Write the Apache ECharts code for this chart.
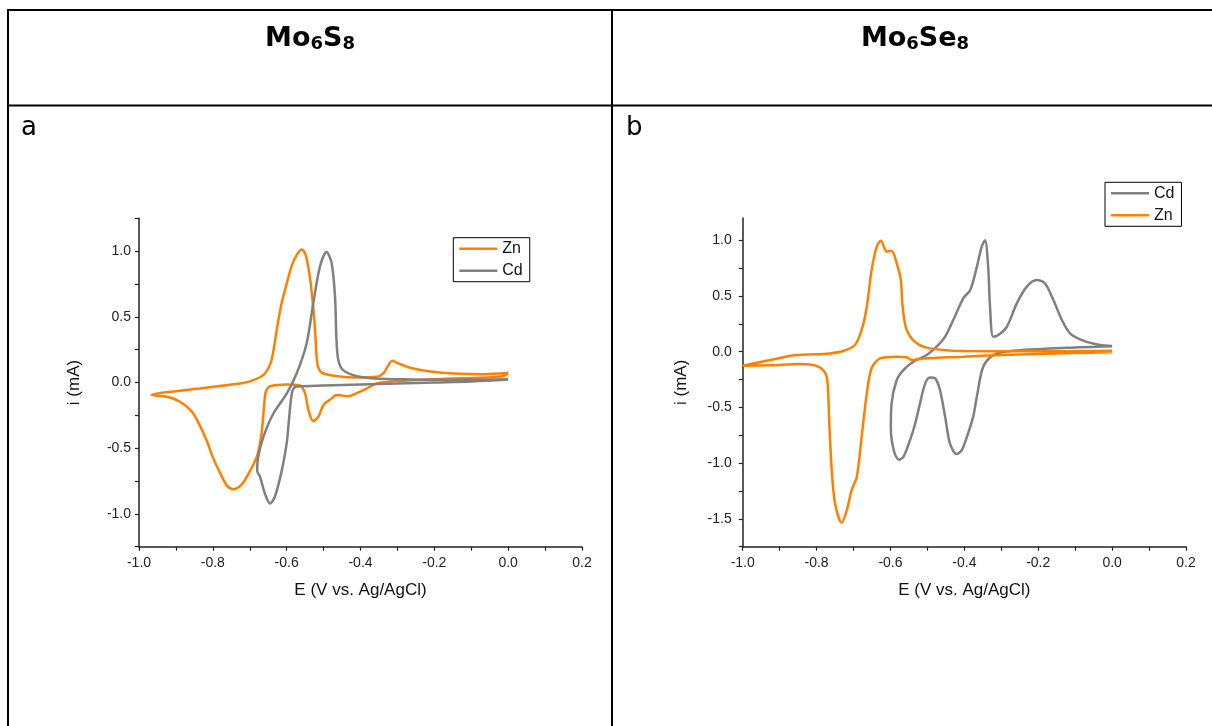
<!DOCTYPE html>
<html>
<head>
<meta charset="utf-8">
<script src="https://cdn.jsdelivr.net/npm/echarts@6/dist/echarts.min.js"></script>
<style>
html,body{margin:0;padding:0;background:#fff;}
#c{width:1212px;height:726px;}
</style>
</head>
<body>
<div id="c"></div>
<script>
// ---------- DATA ----------
// Panel a (Mo6S8): potential E (V vs Ag/AgCl) and current i (mA)
const znA_E = [0.0, -0.02, -0.1, -0.2, -0.3, -0.356, -0.383, -0.401, -0.433, -0.464, -0.482, -0.5, -0.514, -0.528, -0.541, -0.55, -0.564, -0.6, -0.645, -0.655, -0.659, -0.668, -0.681, -0.708, -0.725, -0.744, -0.762, -0.78, -0.8, -0.817, -0.853, -0.889, -0.925, -0.966,
  -0.85, -0.717, -0.69, -0.663, -0.65, -0.642, -0.634, -0.627, -0.614, -0.6, -0.586, -0.573, -0.559, -0.547, -0.537, -0.529, -0.523, -0.519, -0.515, -0.505, -0.473, -0.419, -0.356, -0.338, -0.327, -0.314, -0.297, -0.266, -0.211, -0.148, -0.067, 0.0];
const znA_I = [0.07, 0.045, 0.035, 0.025, 0.01, -0.008, -0.046, -0.07, -0.104, -0.096, -0.13, -0.17, -0.26, -0.294, -0.21, -0.084, -0.023, -0.015, -0.028, -0.06, -0.109, -0.388, -0.566, -0.718, -0.785, -0.812, -0.785, -0.69, -0.57, -0.44, -0.236, -0.147, -0.109, -0.096,
  -0.05, -0.003, 0.018, 0.056, 0.107, 0.16, 0.27, 0.398, 0.6, 0.753, 0.89, 0.969, 1.013, 0.957, 0.80, 0.6, 0.398, 0.2, 0.12, 0.075, 0.051, 0.038, 0.043, 0.069, 0.119, 0.165, 0.145, 0.112, 0.084, 0.069, 0.063, 0.074];

const cdA_E = [0.0, -0.1, -0.2, -0.3, -0.4, -0.5, -0.56, -0.577, -0.586, -0.593, -0.6, -0.613, -0.632, -0.645, -0.659, -0.672, -0.68,
  -0.677, -0.663, -0.636, -0.6, -0.573, -0.546, -0.528, -0.51, -0.492, -0.478, -0.469, -0.465, -0.46, -0.447, -0.41, -0.356, -0.3, -0.2, -0.1, 0.0];
const cdA_I = [0.022, 0.008, 0.0, -0.008, -0.015, -0.022, -0.028, -0.033, -0.084, -0.262, -0.464, -0.667, -0.87, -0.921, -0.845, -0.718, -0.672,
  -0.566, -0.414, -0.236, -0.084, 0.068, 0.297, 0.601, 0.88, 0.994, 0.905, 0.652, 0.322, 0.17, 0.094, 0.048, 0.03, 0.025, 0.02, 0.02, 0.025];

// Panel b (Mo6Se8)
const cdB_E = [0.0, -0.123, -0.268, -0.322, -0.349, -0.366, -0.376, -0.393, -0.407, -0.421, -0.439, -0.452, -0.466, -0.479, -0.493, -0.506, -0.52, -0.533, -0.547, -0.565, -0.577, -0.59, -0.599,
  -0.597, -0.583, -0.565, -0.538, -0.502, -0.475, -0.452, -0.43, -0.403, -0.384, -0.366, -0.353, -0.344, -0.335, -0.331, -0.322, -0.308, -0.285, -0.258, -0.231, -0.204, -0.182, -0.159, -0.136, -0.114, -0.078, -0.033, 0.0];
const cdB_I = [0.05, 0.036, 0.009, -0.03, -0.135, -0.4, -0.583, -0.763, -0.883, -0.919, -0.823, -0.584, -0.344, -0.24, -0.231, -0.284, -0.464, -0.644, -0.793, -0.943, -0.97, -0.898, -0.689,
  -0.464, -0.254, -0.165, -0.09, -0.03, 0.045, 0.135, 0.284, 0.479, 0.554, 0.763, 0.943, 1.0, 0.733, 0.434, 0.135, 0.15, 0.224, 0.434, 0.584, 0.644, 0.614, 0.464, 0.285, 0.165, 0.099, 0.06, 0.051];

const znB_E = [0.0, -0.1, -0.2, -0.3, -0.403, -0.511, -0.543, -0.556, -0.583, -0.628, -0.651, -0.664, -0.678, -0.691, -0.705, -0.718, -0.732, -0.75, -0.759, -0.766, -0.771, -0.782, -0.809, -0.854, -0.899, -1.0,
  -0.926, -0.89, -0.854, -0.764, -0.728, -0.696, -0.678, -0.664, -0.651, -0.637, -0.626, -0.61, -0.597, -0.583, -0.572, -0.567, -0.556, -0.529, -0.493, -0.403, -0.2, 0.0];
const znB_I = [-0.005, -0.012, -0.02, -0.03, -0.045, -0.06, -0.075, -0.05, -0.045, -0.06, -0.149, -0.374, -0.763, -1.122, -1.241, -1.421, -1.535, -1.361, -1.062, -0.613, -0.254, -0.165, -0.12, -0.11, -0.12, -0.125,
  -0.075, -0.05, -0.03, -0.015, 0.006, 0.06, 0.195, 0.404, 0.733, 0.943, 0.996, 0.898, 0.904, 0.793, 0.644, 0.404, 0.195, 0.075, 0.03, 0.006, 0.003, 0.008];

// Axis ticks / labels
const xTicks = [-1.0, -0.9, -0.8, -0.7, -0.6, -0.5, -0.4, -0.3, -0.2, -0.1, 0.0, 0.1, 0.2];
const xLabels = [-1.0, -0.8, -0.6, -0.4, -0.2, 0.0, 0.2];
const yTicksA = [-1.25, -1.0, -0.75, -0.5, -0.25, 0.0, 0.25, 0.5, 0.75, 1.0, 1.25];
const yLabelsA = [-1.0, -0.5, 0.0, 0.5, 1.0];
const yTicksB = [-1.75, -1.5, -1.25, -1.0, -0.75, -0.5, -0.25, 0.0, 0.25, 0.5, 0.75, 1.0];
const yLabelsB = [-1.5, -1.0, -0.5, 0.0, 0.5, 1.0];

const titleA = ['Mo', '6', 'S', '8'];
const titleB = ['Mo', '6', 'Se', '8'];
const xName = 'E (V vs. Ag/AgCl)';
const yName = 'i (mA)';

// ---------- CHART ----------
const ORANGE = '#FF8000', GRAY = '#808080';
const zip = (a, b) => a.map((v, i) => [v, b[i]]);
const FONT = "'Liberation Sans', Arial, sans-serif";

function xAxisCfg(gi) {
  return {
    type: 'value', gridIndex: gi, min: -1.0, max: 0.2,
    name: xName, nameLocation: 'middle', nameGap: 35,
    nameTextStyle: { fontFamily: FONT, fontSize: 17, color: '#111' },
    axisLine: { show: true, onZero: false, lineStyle: { color: '#222', width: 1.5 } },
    axisTick: { show: true, customValues: xTicks, length: 4, lineStyle: { color: '#222', width: 1.2 } },
    axisLabel: { customValues: xLabels, formatter: v => v.toFixed(1), margin: 9, fontFamily: FONT, fontSize: 14, color: '#222' },
    splitLine: { show: false }
  };
}
function yAxisCfg(gi, min, max, ticks, labels, gap, margin) {
  return {
    type: 'value', gridIndex: gi, min: min, max: max,
    name: yName, nameLocation: 'middle', nameGap: gap,
    nameTextStyle: { fontFamily: FONT, fontSize: 17, color: '#111' },
    axisLine: { show: true, onZero: false, lineStyle: { color: '#222', width: 1.5 } },
    axisTick: { show: true, customValues: ticks, length: 4, lineStyle: { color: '#222', width: 1.2 } },
    axisLabel: { customValues: labels, formatter: v => v.toFixed(1), margin: margin, fontFamily: FONT, fontSize: 14, color: '#222' },
    splitLine: { show: false }
  };
}
function lineSeries(name, color, xi, data) {
  return {
    name: name, type: 'line', xAxisIndex: xi, yAxisIndex: xi, data: data,
    showSymbol: false, symbol: 'none', smooth: 0.3,
    lineStyle: { color: color, width: 2.5 }, itemStyle: { color: color },
    animation: false
  };
}
function legendCfg(left, top, names) {
  return {
    orient: 'vertical', left: left, top: top, data: names,
    icon: 'rect', itemWidth: 38, itemHeight: 2.5, itemGap: 6,
    padding: [3, 7, 3, 6], borderColor: '#000', borderWidth: 1,
    textStyle: { fontFamily: FONT, fontSize: 16, color: '#111' },
    selectedMode: false
  };
}
function richTitle(parts, x) {
  return {
    type: 'text', x: 0, y: 0,
    style: {
      text: '{m|' + parts[0] + '}{s|' + parts[1] + '}{m|' + parts[2] + '}{s|' + parts[3] + '}',
      x: x, y: 38.5, align: 'center', verticalAlign: 'middle',
      textAlign: 'center', textVerticalAlign: 'middle',
      rich: {
        m: { fontFamily: "'DejaVu Sans', sans-serif", fontWeight: 'bold', fontSize: 27, lineHeight: 30, fill: '#000' },
        s: { fontFamily: "'DejaVu Sans', sans-serif", fontWeight: 'bold', fontSize: 18, lineHeight: 18, verticalAlign: 'bottom', fill: '#000' }
      }
    }
  };
}
function hline(x1, x2, y) { return { type: 'line', shape: { x1: x1, y1: y, x2: x2, y2: y }, style: { stroke: '#000', lineWidth: 2 } }; }
function vline(x, y1, y2) { return { type: 'line', shape: { x1: x, y1: y1, x2: x, y2: y2 }, style: { stroke: '#000', lineWidth: 2 } }; }
function panelLabel(t, x) {
  return { type: 'text', style: { text: t, x: x, y: 128, align: 'left', verticalAlign: 'middle', textAlign: 'left', textVerticalAlign: 'middle',
    fontFamily: "'DejaVu Sans', sans-serif", fontSize: 26, fill: '#000' } };
}

const chart = echarts.init(document.getElementById('c'), null, { renderer: 'canvas' });
chart.setOption({
  backgroundColor: '#fff',
  animation: false,
  grid: [
    { left: 139, top: 218.3, width: 443, height: 328.4, containLabel: false },
    { left: 742.7, top: 218, width: 443.3, height: 328.7, containLabel: false }
  ],
  xAxis: [xAxisCfg(0), xAxisCfg(1)],
  yAxis: [
    yAxisCfg(0, -1.25, 1.25, yTicksA, yLabelsA, 56, 8),
    yAxisCfg(1, -1.75, 1.2, yTicksB, yLabelsB, 53, 11)
  ],
  legend: [
    legendCfg(453.3, 237.7, ['Zn', 'Cd']),
    legendCfg(1105, 182.3, ['Cd', 'Zn'])
  ],
  series: [
    lineSeries('Zn', ORANGE, 0, zip(znA_E, znA_I)),
    lineSeries('Cd', GRAY, 0, zip(cdA_E, cdA_I)),
    lineSeries('Cd', GRAY, 1, zip(cdB_E, cdB_I)),
    lineSeries('Zn', ORANGE, 1, zip(znB_E, znB_I))
  ],
  graphic: [
    hline(7, 1212, 10),
    hline(7, 1212, 105.5),
    vline(8, 9, 726),
    vline(612, 9, 726),
    richTitle(titleA, 310),
    richTitle(titleB, 915),
    panelLabel('a', 21),
    panelLabel('b', 626)
  ]
});
</script>
</body>
</html>
